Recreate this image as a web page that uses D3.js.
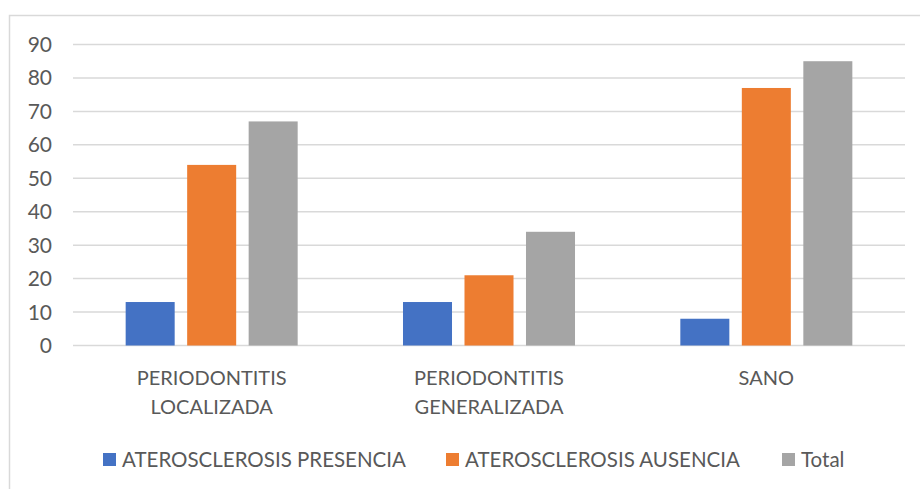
<!DOCTYPE html>
<html><head><meta charset="utf-8">
<script src="https://cdn.jsdelivr.net/npm/d3@7"></script>
<style>html,body{margin:0;padding:0;background:#fff;overflow:hidden}</style>
</head><body>
<svg id="c" width="920" height="489"></svg>
<script>
const categories = [["PERIODONTITIS","LOCALIZADA"],["PERIODONTITIS","GENERALIZADA"],["SANO"]];
const seriesNames = ["ATEROSCLEROSIS PRESENCIA","ATEROSCLEROSIS AUSENCIA","Total"];
const presencia = [13, 13, 8];
const ausencia = [54, 21, 77];
const total = [67, 34, 85];
const yTicks = [0,10,20,30,40,50,60,70,80,90];
const colors = ["#4472C4","#ED7D31","#A5A5A5"];

(function(){
const series = [presencia, ausencia, total];
const svg = d3.select("#c");
const font = "Lato, 'Open Sans', sans-serif";
const txt = "#595959";

svg.append("rect").attr("x",9.5).attr("y",15.5).attr("width",1000).attr("height",1000)
  .attr("fill","#fff").attr("stroke","#d9d9d9").attr("stroke-width",1.5);

const pLeft = 73, pRight = 905, pTop = 44.5, pBottom = 345.5;
const y = d3.scaleLinear().domain([0,90]).range([pBottom, pTop]);
const x0 = d3.scaleBand().domain(d3.range(categories.length)).range([pLeft,pRight]);
const half = 92.25;
const x1 = d3.scaleBand().domain(d3.range(series.length)).range([-half, half]).paddingInner(0.203).paddingOuter(0.1015);

const g = svg.append("g");
g.selectAll("line.grid").data(yTicks).enter().append("line")
  .attr("x1",pLeft).attr("x2",pRight).attr("y1",d=>y(d)).attr("y2",d=>y(d))
  .attr("stroke","#d9d9d9").attr("stroke-width",1.5);

g.selectAll("text.yl").data(yTicks).enter().append("text")
  .attr("x",52).attr("y",d=>y(d)+7.5).attr("text-anchor","end")
  .attr("font-family",font).attr("font-size",21).attr("fill",txt).text(d=>d);

series.forEach((vals, si) => {
  g.selectAll("rect.s"+si).data(vals).enter().append("rect")
    .attr("x",(d,i)=>x0(i)+x0.bandwidth()/2+x1(si))
    .attr("width",x1.bandwidth())
    .attr("y",d=>y(d)).attr("height",d=>y(0)-y(d))
    .attr("fill",colors[si]);
});

categories.forEach((lines,i)=>{
  const t = g.append("text").attr("text-anchor","middle").attr("font-family",font)
    .attr("font-size",20).attr("fill",txt);
  lines.forEach((l,k)=>{
    t.append("tspan").attr("x",x0(i)+x0.bandwidth()/2).attr("y",385+k*29).text(l);
  });
});

const legX = [103, 446, 782];
seriesNames.forEach((n,i)=>{
  g.append("rect").attr("x",legX[i]).attr("y",453).attr("width",13).attr("height",13).attr("fill",colors[i]);
  g.append("text").attr("x",legX[i]+19).attr("y",467).attr("font-family",font).attr("font-size",20.5)
    .attr("fill",txt).text(n);
});
})();
</script>
</body></html>
